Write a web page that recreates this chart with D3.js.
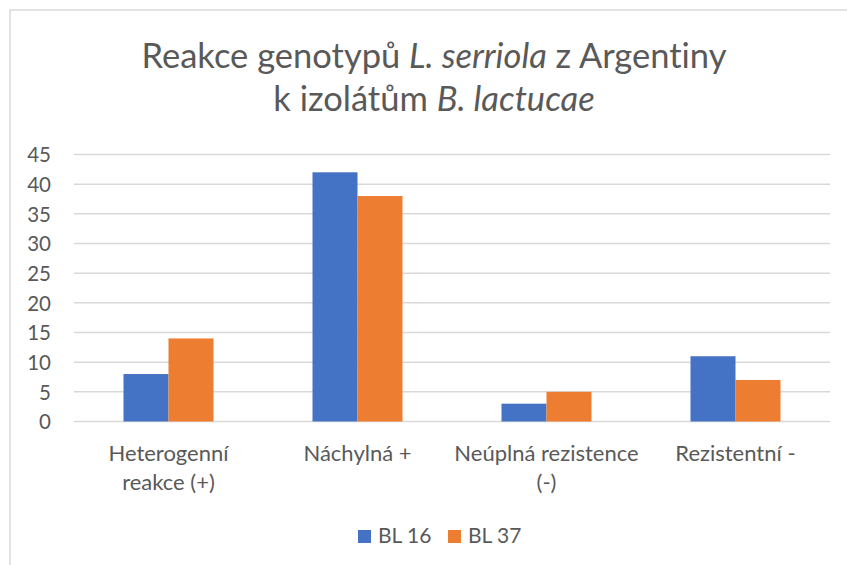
<!DOCTYPE html>
<html>
<head>
<meta charset="utf-8">
<script src="https://cdn.jsdelivr.net/npm/d3@7"></script>
<style>
  html, body { margin: 0; padding: 0; background: #fff; }
  svg { display: block; }
  text { font-variant-ligatures: none; font-feature-settings: "liga" 0; }
</style>
</head>
<body>
<svg id="chart" width="847" height="565"></svg>
<script>
// Reaction categories and counts of genotypes for each isolate
const categories = [["Heterogenní", "reakce (+)"], ["Náchylná +"], ["Neúplná rezistence", "(-)"], ["Rezistentní -"]];
const seriesNames = ["BL 16", "BL 37"];
const bl16 = [8, 42, 3, 11];
const bl37 = [14, 38, 5, 7];
const yTicks = [0, 5, 10, 15, 20, 25, 30, 35, 40, 45];
const colors = ["#4472C4", "#ED7D31"];

const font = "Lato, 'Open Sans', sans-serif";
const textColor = "#595959";

const svg = d3.select("#chart");

// chart area frame
svg.append("rect")
  .attr("x", 10).attr("y", 10).attr("width", 850).attr("height", 570)
  .attr("fill", "#fff").attr("stroke", "#d9d9d9").attr("stroke-width", 1.5);

// title with italic species names, two separate lines
const titleLines = [
  { y: 68, parts: [["Reakce genotypů ", false], ["L. serriola", true], [" z Argentiny", false]] },
  { y: 111, parts: [["k izolátům ", false], ["B. lactucae", true]] }
];
titleLines.forEach(line => {
  const t = svg.append("text")
    .attr("x", 434).attr("y", line.y)
    .attr("text-anchor", "middle")
    .attr("font-family", font).attr("font-size", 34.5)
    .attr("fill", textColor);
  line.parts.forEach(([s, it]) => {
    t.append("tspan").attr("font-style", it ? "italic" : "normal").text(s);
  });
});

const plot = { left: 74, right: 830, top: 154.5, bottom: 421.5 };

const x0 = d3.scaleBand()
  .domain(d3.range(categories.length))
  .range([plot.left, plot.right]);
const x1 = d3.scaleBand()
  .domain(d3.range(seriesNames.length))
  .range([0, 90]);
const y = d3.scaleLinear().domain([0, 45]).range([plot.bottom, plot.top]);

// horizontal gridlines
svg.append("g").selectAll("line")
  .data(yTicks)
  .join("line")
  .attr("x1", plot.left).attr("x2", plot.right)
  .attr("y1", d => y(d)).attr("y2", d => y(d))
  .attr("stroke", "#d9d9d9").attr("stroke-width", 1.5);

// y axis labels
const yAxis = d3.axisLeft(y).tickValues(yTicks).tickSize(0).tickPadding(0);
const yg = svg.append("g").attr("transform", `translate(51,0)`).call(yAxis);
yg.select(".domain").remove();
yg.selectAll("text")
  .attr("font-family", font).attr("font-size", 20.5)
  .attr("fill", textColor).attr("dy", "0.36em");

// bars
const series = [bl16, bl37];
const groups = svg.append("g").selectAll("g")
  .data(categories.map((c, i) => i))
  .join("g")
  .attr("transform", i => `translate(${x0(i) + x0.bandwidth() / 2 - 45},0)`);
groups.selectAll("rect")
  .data(i => series.map((s, k) => ({ k, v: s[i] })))
  .join("rect")
  .attr("x", d => x1(d.k))
  .attr("width", x1.bandwidth())
  .attr("y", d => y(d.v))
  .attr("height", d => y(0) - y(d.v))
  .attr("fill", d => colors[d.k]);

// category labels
const xl = svg.append("g").selectAll("text")
  .data(categories)
  .join("text")
  .attr("text-anchor", "middle")
  .attr("font-family", font).attr("font-size", 22)
  .attr("fill", textColor);
xl.each(function (lines, i) {
  const t = d3.select(this);
  lines.forEach((ln, j) => {
    t.append("tspan")
      .attr("x", x0(i) + x0.bandwidth() / 2)
      .attr("y", 461 + j * 29)
      .text(ln);
  });
});

// legend
const legend = svg.append("g");
const legendItems = [{ x: 358, name: seriesNames[0], c: colors[0] }, { x: 448, name: seriesNames[1], c: colors[1] }];
legendItems.forEach(it => {
  legend.append("rect").attr("x", it.x).attr("y", 530).attr("width", 13).attr("height", 13).attr("fill", it.c);
  legend.append("text").attr("x", it.x + 20).attr("y", 543)
    .attr("font-family", font).attr("font-size", 21).attr("fill", textColor)
    .text(it.name);
});
</script>
</body>
</html>
